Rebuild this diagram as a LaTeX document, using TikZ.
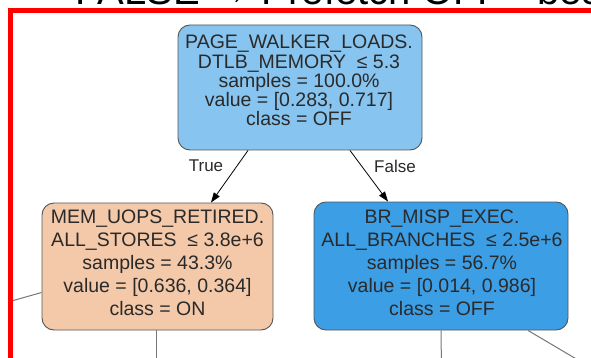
\documentclass[tikz,border=0pt]{standalone}
\usepackage{fontspec}
\setmainfont{Liberation Sans}
\usetikzlibrary{arrows.meta,calc}

\definecolor{offmid}{HTML}{87C4EF}
\definecolor{offdark}{HTML}{3C9EE5}
\definecolor{onlight}{HTML}{F4C9AA}
\definecolor{edgegray}{HTML}{555555}
\definecolor{txt}{HTML}{2A2A2A}

\tikzset{
  treebox/.style={draw=edgegray, line width=0.9pt, rounded corners=12pt, inner sep=0pt},
  boxtext/.style={align=center, inner sep=0pt, text=txt},
  rootfont/.style={font=\fontsize{19.5}{19.2}\selectfont},
  childfont/.style={font=\fontsize{19.5}{23}\selectfont},
  split/.style={draw=black, line width=0.8pt, -{Triangle[length=10pt,width=7pt]}},
  branch/.style={draw=edgegray!80, line width=1pt},
  edgelabel/.style={font=\fontsize{17}{17}\selectfont, text=txt},
}

\begin{document}
\begin{tikzpicture}[x=1pt,y=-1pt]
  \useasboundingbox (0,0) rectangle (591,358);
  \fill[white] (0,0) rectangle (591,358);

  \begin{scope}
    \clip (0,0) rectangle (591,358);

    % slide heading, mostly above the visible area
    \node[anchor=base west, inner sep=0pt, font=\fontsize{40}{40}\selectfont]
      (heading) at (75,5) {FALSE → Prefetch OFF · best};

    % decision tree boxes
    \node[treebox, fill=offmid, minimum width=244pt, minimum height=125pt]
      (root) at (300,87.5) {};
    \node[treebox, fill=onlight, minimum width=231pt, minimum height=127pt]
      (left) at (157.5,266.5) {};
    \node[treebox, fill=offdark, minimum width=254pt, minimum height=128pt]
      (right) at (441,266) {};

    % their contents
    \node[boxtext, rootfont] (rootlbl) at ($(root.center)+(-1,-7)$)
      {PAGE\_WALKER\_LOADS.\\DTLB\_MEMORY \ ≤ 5.3\\samples = 100.0\%\\value = [0.283, 0.717]\\class = OFF};
    \node[boxtext, childfont] (leftlbl) at ($(left.center)+(0,-3.5)$)
      {MEM\_UOPS\_RETIRED.\\ALL\_STORES \ ≤ 3.8e+6\\samples = 43.3\%\\value = [0.636, 0.364]\\class = ON};
    \node[boxtext, childfont] (rightlbl) at ($(right.center)+(1,-3)$)
      {BR\_MISP\_EXEC.\\ALL\_BRANCHES \ ≤ 2.5e+6\\samples = 56.7\%\\value = [0.014, 0.986]\\class = OFF};

    % branches out of the root
    \draw[split] ($(root.south)+(-52,0)$) -- ($(left.north)+(53.5,0)$);
    \draw[split] ($(root.south)+(50,0)$) -- ($(right.north)+(-53,0)$);
    \node[edgelabel] (truelbl) at (206,166) {True};
    \node[edgelabel] (falselbl) at (395,166) {False};

    % branches leading to deeper levels
    \coordinate (lowL) at (156,370);
    \coordinate (sideL) at (8,302);
    \coordinate (lowR) at (441.5,370);
    \coordinate (diagR) at (600,373);
    \draw[branch] ($(left.south)+(-1.5,0)$) -- (lowL);
    \draw[branch] ($(left.west)+(0,26)$) -- (sideL);
    \draw[branch] (right.south) -- (lowR);
    \draw[branch] ($(right.south)+(87,0)$) -- (diagR);

    % red highlight frame
    \draw[red, line width=5pt] (10,400) -- (10,11) -- (620,11);
  \end{scope}
\end{tikzpicture}
\end{document}
